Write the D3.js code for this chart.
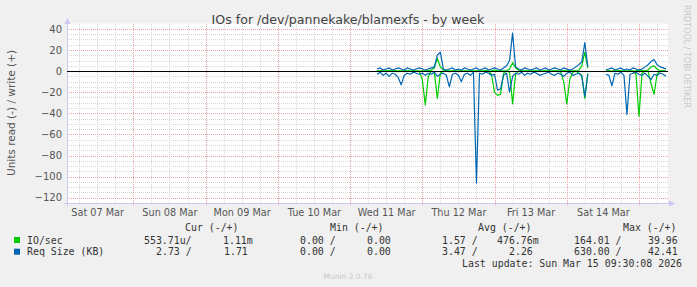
<!DOCTYPE html>
<html><head><meta charset="utf-8">
<script src="https://cdn.jsdelivr.net/npm/d3@7"></script>
<style>
html,body{margin:0;padding:0;background:#f0f0f0;}
svg{display:block;}
text{font-family:"DejaVu Sans",sans-serif;}
.mono{font-family:"DejaVu Sans Mono",monospace;font-size:9.9px;fill:#333;white-space:pre;}
</style></head><body>
<script>
// ---------- data (hourly, starting Wed 11 Mar 09:00) ----------
const startData = new Date(2026, 2, 11, 9, 0);
// IO/sec read (plotted as negative)
const ioRead = [0,0,0.2,0,0,0,0,0.5,0,0,0,0,0.2,0,0,8,32,5,0,1,26,2,0,0,0.5,0,0,0,0.2,0,0,0,0,0.5,0,0,0,0,3,20,23,22,2,0,1,31,3,0,0,0,0,0,0,0,0.2,0,0,0,0,0,0,1,10,31,8,1,0,2,4,26,2,null,null,0.2,null,null,0,0,0.5,0,0,0,0,0.5,0,0,3,43,2,0,0,12,22,3,0,0,0];
// IO/sec write
const ioWrite = [0.2,0.1,0.2,0.1,0.2,0.1,0.2,0.2,0.1,0.1,0.2,0.1,0.2,0.1,0.1,0.2,0.3,0.5,1,3,12,4,1,0.3,0.2,0.1,0.2,0.1,0.2,0.1,0.1,0.2,0.1,0.2,0.1,0.1,0.2,0.1,0.3,1,0.5,0.3,0.2,0.3,2,8,3,1,0.2,0.1,0.2,0.1,0.1,0.2,0.1,0.1,0.2,0.1,0.1,0.2,0.1,0.2,0.3,1,0.5,0.2,0.3,1,5,18,3,null,null,0.1,null,null,0.1,0.2,0.1,0.1,0.2,0.1,0.1,0.2,0.1,0.1,0.3,1,0.5,0.2,1,4,5,2,0.3,0.2,0.1];
// Req Size (KB) read (plotted as negative)
const reqRead = [3,1,4,2,5,2,3,6,13,4,2,3,1,2,3,2,4,2,3,1,5,3,2,4,15,3,2,4,10,3,2,4,1,106,2,3,1,2,4,3,18,17,4,2,20,5,2,3,1,4,2,3,1,2,4,3,2,1,3,4,2,3,5,2,1,4,3,2,5,24,3,null,null,2,null,null,3,4,14,2,3,1,4,41,3,2,1,3,4,2,5,8,3,4,2,3,5];
// Req Size (KB) write
const reqWrite = [2,3,1,2,3,1,2,3,2,1,3,2,1,2,3,2,1,2,3,4,15,18,2,1,2,3,1,2,1,3,2,1,2,3,1,2,3,1,2,3,2,1,3,5,10,36,4,2,1,3,2,1,2,3,1,2,3,1,2,3,2,1,3,2,1,2,4,6,9,27,4,null,null,2,null,null,1,2,3,1,2,3,1,2,1,3,2,1,2,4,6,9,11,6,4,3,2];

const dayLabels = ["Sat 07 Mar","Sun 08 Mar","Mon 09 Mar","Tue 10 Mar","Wed 11 Mar","Thu 12 Mar","Fri 13 Mar","Sat 14 Mar"];
const yTicks = [40,20,0,-20,-40,-60,-80,-100,-120];

const title = "IOs for /dev/pannekake/blamexfs - by week";
const yLabel = "Units read (-) / write (+)";
const legendHeader = [["Cur (-/+)",185],["Min (-/+)",330],["Avg (-/+)",478],["Max (-/+)",623]];
const legendRows = [
  {name:"IO/sec", color:"#00CC00", cells:[["553.71u/",144],["1.11m",223],["0.00 /",300],["0.00",367],["1.57 /",442],["476.76m",497],["164.01 /",574],["39.96",648]]},
  {name:"Req Size (KB)", color:"#0066B3", cells:[["2.73 /",156],["1.71",224],["0.00 /",300],["0.00",367],["3.47 /",442],["2.26",509],["630.00 /",574],["42.41",648]]}
];
const lastUpdate = "Last update: Sun Mar 15 09:30:08 2026";

// ---------- drawing ----------
const W = 697, H = 287;
const X0 = 67, X1 = 668, Y0 = 203, YT = 23.6;
const svg = d3.select("body").append("svg").attr("width", W).attr("height", H);
svg.append("rect").attr("width", W).attr("height", H).attr("fill", "#f0f0f0");

const x = d3.scaleTime().domain([new Date(2026,2,7,1,58), new Date(2026,2,15,9,38)]).range([X0, X1]);
const y = d3.scaleLinear().domain([-125, 45]).range([Y0, YT]);

svg.append("rect").attr("x", X0).attr("y", YT).attr("width", X1 - X0).attr("height", Y0 - YT).attr("fill", "#ffffff");

// grid
const g = svg.append("g").attr("shape-rendering", "crispEdges");
const minorY = d3.range(-120, 45, 5).filter(v => v % 20 !== 0);
g.selectAll(".my").data(minorY).join("line")
  .attr("x1", X0).attr("x2", X1).attr("y1", d => Math.round(y(d)) + 0.5).attr("y2", d => Math.round(y(d)) + 0.5)
  .attr("stroke", "#d8d8d8").attr("stroke-dasharray", "1,1");
const hours6 = d3.timeHour.every(6).range(x.domain()[0], x.domain()[1]).filter(d => d.getHours() !== 0);
g.selectAll(".mx").data(hours6).join("line")
  .attr("x1", d => Math.round(x(d)) + 0.5).attr("x2", d => Math.round(x(d)) + 0.5).attr("y1", YT).attr("y2", Y0)
  .attr("stroke", "#d8d8d8").attr("stroke-dasharray", "1,1");
g.selectAll(".My").data(yTicks).join("line")
  .attr("x1", X0).attr("x2", X1).attr("y1", d => Math.round(y(d)) + 0.5).attr("y2", d => Math.round(y(d)) + 0.5)
  .attr("stroke", "#eaa0a0").attr("stroke-dasharray", "1,1");
const days = d3.timeDay.range(x.domain()[0], x.domain()[1]);
g.selectAll(".Mx").data(days).join("line")
  .attr("x1", d => Math.round(x(d)) + 0.5).attr("x2", d => Math.round(x(d)) + 0.5).attr("y1", YT).attr("y2", Y0 + 3)
  .attr("stroke", "#eaa0a0").attr("stroke-dasharray", "1,1");

// axes (d3 axes for labels)
const yAxis = d3.axisLeft(y).tickValues(yTicks).tickSize(0).tickPadding(5);
const ya = svg.append("g").attr("transform", `translate(${X0},0)`).call(yAxis);
ya.select(".domain").remove();
ya.selectAll("text").attr("font-family", "DejaVu Sans").attr("font-size", "10px").attr("fill", "#555");

const noons = d3.timeDay.range(d3.timeDay.floor(x.domain()[0]), x.domain()[1])
  .map(d => d3.timeHour.offset(d, 12)).filter(d => d < x.domain()[1]);
const xAxis = d3.axisBottom(x).tickValues(noons).tickSize(0).tickPadding(6).tickFormat((d, i) => dayLabels[i]);
const xa = svg.append("g").attr("transform", `translate(0,${Y0})`).call(xAxis);
xa.select(".domain").remove();
xa.selectAll("text").attr("font-family", "DejaVu Sans").attr("font-size", "9.7px").attr("fill", "#555");

// axis lines with arrows
svg.append("line").attr("x1", X0 + 0.5).attr("x2", X0 + 0.5).attr("y1", Y0 + 3).attr("y2", 22).attr("stroke", "#c8c8f0");
svg.append("path").attr("d", `M${X0-2.5},${24} L${X0+0.5},${18} L${X0+3.5},${24} Z`).attr("fill", "#c8c8f0");
svg.append("line").attr("x1", X0 - 3).attr("x2", 671).attr("y1", Y0 + 0.5).attr("y2", Y0 + 0.5).attr("stroke", "#c8c8f0");
svg.append("path").attr("d", `M${669},${Y0-2.5} L${675},${Y0+0.5} L${669},${Y0+3.5} Z`).attr("fill", "#c8c8f0");

// data lines
const t = i => d3.timeHour.offset(startData, i);
function drawSeries(vals, sign, color) {
  const line = d3.line().defined(d => d != null).x((d, i) => x(t(i))).y(d => y(sign * d));
  svg.append("path").datum(vals).attr("d", line).attr("fill", "none").attr("stroke", color).attr("stroke-width", 1.2).attr("stroke-linejoin", "round");
}
drawSeries(ioRead, -1, "#00CC00");
drawSeries(ioWrite, 1, "#00CC00");
drawSeries(reqRead, -1, "#0066B3");
drawSeries(reqWrite, 1, "#0066B3");

// zero rule
svg.append("line").attr("x1", X0).attr("x2", X1).attr("y1", Math.round(y(0)) + 0.5).attr("y2", Math.round(y(0)) + 0.5)
  .attr("stroke", "#000").attr("stroke-width", 1).attr("shape-rendering", "crispEdges");

// title
svg.append("text").attr("x", 348).attr("y", 24).attr("text-anchor", "middle").attr("font-size", "12.6px").attr("fill", "#444").text(title);
// y label
svg.append("text").attr("transform", "translate(14.5,113) rotate(-90)").attr("text-anchor", "middle").attr("font-size", "10.5px").attr("fill", "#555").text(yLabel);
// watermark
svg.append("text").attr("transform", "translate(683.5,5) rotate(90)").attr("font-size", "8px").attr("fill", "#c8c8c8").text("RRDTOOL / TOBI OETIKER");

// legend
legendHeader.forEach(([s, xx]) => svg.append("text").attr("class", "mono").attr("x", xx).attr("y", 230.5).text(s));
legendRows.forEach((r, k) => {
  const yy = 243.5 + k * 11.7;
  svg.append("rect").attr("x", 14).attr("y", yy - 6.5).attr("width", 6).attr("height", 6).attr("fill", r.color);
  svg.append("text").attr("class", "mono").attr("x", 27).attr("y", yy).text(r.name);
  r.cells.forEach(([s, xx]) => svg.append("text").attr("class", "mono").attr("x", xx).attr("y", yy).text(s));
});
svg.append("text").attr("class", "mono").attr("x", 682).attr("y", 266.5).attr("text-anchor", "end").text(lastUpdate);
svg.append("text").attr("x", 348).attr("y", 279).attr("text-anchor", "middle").attr("font-size", "7.5px").attr("fill", "#c8c8c8").text("Munin 2.0.76");
</script>
</body></html>
